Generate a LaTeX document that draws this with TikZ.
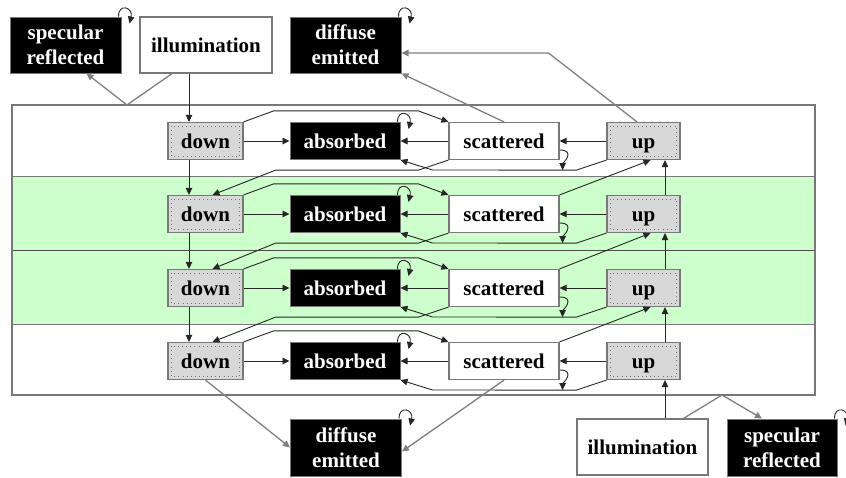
\documentclass[tikz,border=0pt]{standalone}
\usepackage{fontspec}
\setmainfont{Liberation Serif}
\usetikzlibrary{arrows.meta,calc}
\definecolor{band}{RGB}{204,255,204}
\definecolor{boxgray}{RGB}{216,216,216}
\definecolor{edgegray}{RGB}{120,120,120}
\begin{document}
\begin{tikzpicture}[x=1pt,y=-1pt,
  lbl/.style={font=\fontsize{21}{25}\selectfont\bfseries, inner sep=0pt, align=center},
  one/.style={text height=17pt, text depth=2pt},
  gbox/.style={lbl, one, rectangle, fill=boxgray, draw=edgegray, line width=1.2pt, minimum width=75pt, minimum height=37pt,
    path picture={\draw[black!55, line width=0.9pt, dash pattern=on 0.9pt off 3.2pt]
      ([shift={(3.5pt,-3.5pt)}]path picture bounding box.north west) rectangle
      ([shift={(-3.5pt,3.5pt)}]path picture bounding box.south east);}},
  bbox/.style={lbl, rectangle, fill=black, draw=edgegray, line width=1pt, text=white, minimum width=110pt, minimum height=37pt},
  wbox/.style={lbl, rectangle, fill=white, draw=edgegray, line width=1.2pt, minimum width=110pt, minimum height=37pt},
  arr/.style={draw=black!85, line width=0.9pt, -{Triangle[length=7pt,width=6.5pt]}},
  garr/.style={draw=black!50, line width=1.3pt, -{Triangle[length=7pt,width=6.5pt]}},
  ]
\useasboundingbox (0,0) rectangle (846,477);
\fill[white] (0,0) rectangle (846,477);
% bands
\fill[band] (12,176) rectangle (815,324);
\draw[edgegray, line width=1pt] (12,176) -- (815,176);
\draw[black!70, line width=1pt] (12,250) -- (815,250);
\draw[edgegray, line width=1pt] (12,324) -- (815,324);
\draw[edgegray, line width=2pt] (12,105) rectangle (815,395);

% row nodes
\foreach \r/\y in {1/141,2/214,3/288,4/361} {
  \node[gbox] (d\r) at (205.5,\y) {down};
  \node[bbox, one] (a\r) at (345,\y) {absorbed};
  \node[wbox, one] (s\r) at (504,\y) {scattered};
  \node[gbox, minimum width=73pt] (u\r) at (643.5,\y) {up};
}
% top and bottom nodes
\node[bbox, minimum width=111pt, minimum height=56pt] (spT) at (65.5,45) {specular\\reflected};
\node[wbox, one, minimum width=132pt, minimum height=56pt] (ilT) at (206,45) {illumination};
\node[bbox, minimum width=111pt, minimum height=56pt] (deT) at (345.5,45) {diffuse\\emitted};
\node[bbox, minimum width=111pt, minimum height=57pt] (deB) at (346,447.5) {diffuse\\emitted};
\node[wbox, one, minimum width=131pt, minimum height=56pt] (ilB) at (642.5,447) {illumination};
\node[bbox, minimum width=110pt, minimum height=57pt] (spB) at (782,447.5) {specular\\reflected};

\coordinate (dx) at (189,0);
\coordinate (ux) at (665,0);
\coordinate (pkT) at (127,105);
\coordinate (pkB) at (722,395);

% vertical flows
\draw[arr] (ilT.south -| dx) -- (d1.north -| dx);
\draw[arr] (ilB.north -| ux) -- (u4.south -| ux);
\foreach \r/\n in {1/2,2/3,3/4} {
  \draw[arr] (d\r.south -| dx) -- (d\n.north -| dx);
  \draw[arr] (u\n.north -| ux) -- (u\r.south -| ux);
  \draw[arr] (s\r.south west) -- ++(-30,10) -- ($(d\r.south east)+(32,10)$) -- ([xshift=7pt]d\n.north);
  \draw[arr] (s\n.north east) -- ([xshift=7pt]u\r.south);
}
% within each row
\foreach \r in {1,...,4} {
  \draw[arr] (d\r) -- (a\r);
  \draw[arr] (s\r) -- (a\r);
  \draw[arr] (u\r) -- (s\r);
  \draw[arr] (d\r.north east) -- ++(30,-11) -- ($(s\r.north west)+(-30,-11)$) -- (s\r.north west);
  \draw[arr] (u\r.south west) -- ++(-30,10) -- ($(a\r.south east)+(32,10)$) -- (a\r.south east);
  \draw[arr] ([xshift=-3pt]a\r.north east) .. controls +(0,-14) and +(4,-16) .. ($(a\r.north east)+(8,7)$);
  \draw[arr] ($(s\r.east)+(0,9)$) .. controls +(17,0) and +(0,-6) .. ($(s\r.south east)+(3,10)$);
}
% self loops of outer boxes
\foreach \b in {spT,deT,deB,spB}
  \draw[arr] ([xshift=-3pt]\b.north east) .. controls +(0,-14) and +(4,-16) .. ($(\b.north east)+(8,7)$);

% grey (reflected / emitted) flows
\draw[garr] ([xshift=-34pt]ilT.south) -- (pkT) -- ([xshift=21pt]spT.south);
\draw[garr] ([xshift=41pt]ilB.north) -- (pkB) -- ([xshift=-20pt]spB.north);
\draw[garr] ([xshift=-6.5pt]u1.north) -- ($(deT.east)+(147,8)$) -- ($(deT.east)+(0,8)$);
\draw[garr] (s1.north) -- (deT.south east);
\draw[garr] (d4.south) -- (deB.west);
\draw[garr] (s4.south) -- ([yshift=-4pt]deB.east);
\end{tikzpicture}
\end{document}
